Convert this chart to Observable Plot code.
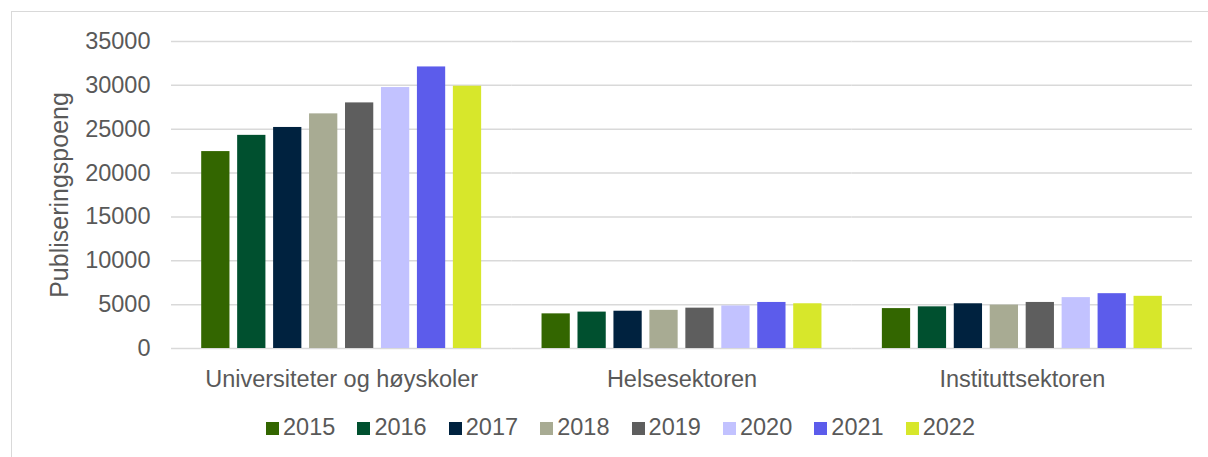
<!DOCTYPE html>
<html>
<head>
<meta charset="utf-8">
<script src="https://cdn.jsdelivr.net/npm/d3@7"></script>
<script src="https://cdn.jsdelivr.net/npm/@observablehq/plot@0.6"></script>
<style>
  html, body { margin: 0; padding: 0; width: 1208px; height: 457px; overflow: hidden; background: #fff; }
  body { font-family: "Liberation Sans", Arial, sans-serif; position: relative; }
  #frame { position: absolute; left: 11px; top: 11px; width: 1300px; height: 600px; border: 1.5px solid #d9d9d9; box-sizing: border-box; }
  #chart { position: absolute; left: 0; top: 0; }
  #chart g[aria-label="y-axis label"] { font-size: 25px; }
  #legend { position: absolute; top: 414px; left: 266px; display: flex; }
  .item { width: 91.4px; height: 27px; position: relative; }
  .sw { position: absolute; left: 0; top: 8px; width: 13px; height: 13px; }
  .lab { position: absolute; left: 17px; top: 0; font-size: 23.5px; line-height: 27px; color: #595959; white-space: nowrap; }
</style>
</head>
<body>
<div id="frame"></div>
<div id="chart"></div>
<div id="legend"></div>
<script>
const groups = ["Universiteter og høyskoler", "Helsesektoren", "Instituttsektoren"];
const years = ["2015", "2016", "2017", "2018", "2019", "2020", "2021", "2022"];
const uhValues = [22450, 24300, 25200, 26750, 28000, 29750, 32100, 29900];
const helseValues = [3950, 4150, 4250, 4350, 4600, 4850, 5250, 5100];
const instituttValues = [4550, 4750, 5100, 4950, 5250, 5800, 6250, 5950];
const colors = ["#336600", "#00502f", "#00223f", "#a8ab93", "#5e5e5e", "#c2c2ff", "#5c5ceb", "#d7e72b"];
const yTicks = [0, 5000, 10000, 15000, 20000, 25000, 30000, 35000];
const yLabel = "Publiseringspoeng";

const seriesByGroup = [uhValues, helseValues, instituttValues];
const data = [];
groups.forEach((g, gi) => years.forEach((yr, yi) => data.push({group: g, year: yr, value: seriesByGroup[gi][yi]})));

const chart = Plot.plot({
  width: 1208,
  height: 400,
  marginLeft: 171,
  marginRight: 16,
  marginTop: 41,
  marginBottom: 52,
  style: {fontSize: "23.5px", fontFamily: '"Liberation Sans", Arial, sans-serif', color: "#595959", background: "transparent", overflow: "visible"},
  fx: {domain: groups, padding: 0, round: false, label: null, axis: "bottom", tickSize: 0, tickPadding: 22},
  x: {domain: years, axis: null, round: false, paddingInner: 0.214, paddingOuter: 0.84},
  y: {domain: [0, 35000], ticks: yTicks, tickFormat: d => String(d), tickSize: 0, tickPadding: 21,
      label: yLabel, labelAnchor: "center", labelArrow: "none", labelOffset: 121},
  color: {domain: years, range: colors},
  marks: [
    Plot.gridY(yTicks, {stroke: "#d9d9d9", strokeOpacity: 1, strokeWidth: 1.5}),
    Plot.barY(data, {fx: "group", x: "year", y: "value", fill: "year"})
  ]
});
document.getElementById("chart").appendChild(chart);

const legend = document.getElementById("legend");
years.forEach((yr, i) => {
  const item = document.createElement("div");
  item.className = "item";
  const sw = document.createElement("div");
  sw.className = "sw";
  sw.style.background = colors[i];
  const lab = document.createElement("div");
  lab.className = "lab";
  lab.textContent = yr;
  item.appendChild(sw);
  item.appendChild(lab);
  legend.appendChild(item);
});
</script>
</body>
</html>
